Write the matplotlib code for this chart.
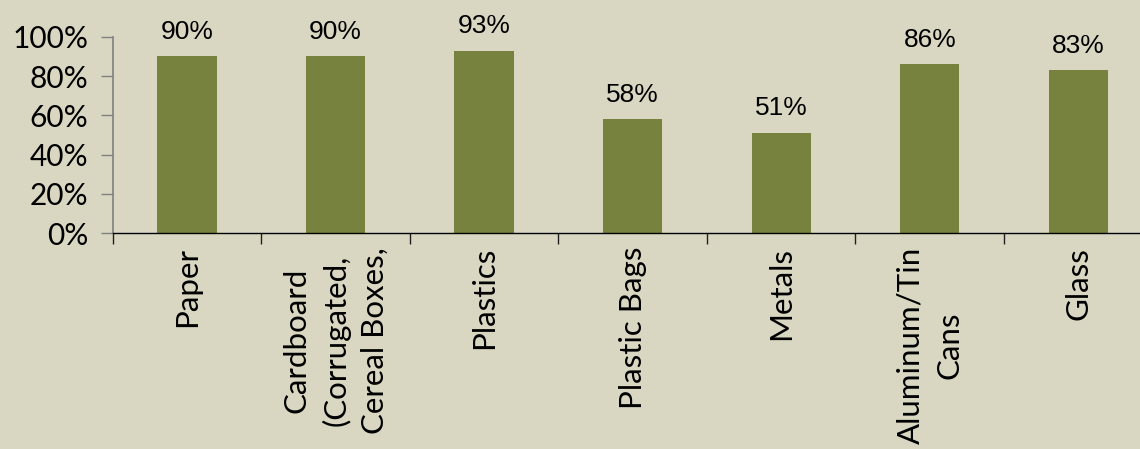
import matplotlib.pyplot as plt
from matplotlib.ticker import FixedLocator, PercentFormatter

# ---- data ----
categories = ["Paper", "Cardboard\n(Corrugated,\nCereal Boxes,", "Plastics",
              "Plastic Bags", "Metals", "Aluminum/Tin\nCans", "Glass"]
values = [0.90, 0.90, 0.93, 0.58, 0.51, 0.86, 0.83]
labels = ["90%", "90%", "93%", "58%", "51%", "86%", "83%"]
yticks = [0, 0.2, 0.4, 0.6, 0.8, 1.0]

bg = "#d9d7c1"
bar_color = "#78823f"

fig = plt.figure(figsize=(11.4, 4.49), dpi=100, facecolor=bg)
ax = fig.add_axes([0.099, 0.481, 0.912, 0.437])
ax.set_facecolor(bg)

x = list(range(len(categories)))
bars = ax.bar(x, values, width=0.4, color=bar_color)

for b, lab in zip(bars, labels):
    ax.annotate(lab, (b.get_x() + b.get_width() / 2, b.get_height()),
                xytext=(0, 9), textcoords="offset points",
                ha="center", va="bottom", fontsize=19,
                family="Liberation Sans", annotation_clip=False)

ax.set_xlim(-0.5, len(categories) - 0.5)
ax.set_ylim(0, 1)

# y axis
ax.yaxis.set_major_locator(FixedLocator(yticks))
ax.yaxis.set_major_formatter(PercentFormatter(1.0, decimals=0))
ax.tick_params(axis="y", length=8.6, width=1, color="#808080", pad=9,
               labelsize=21.5, labelfontfamily="Lato")

# x axis: labels at centres, tick marks at boundaries
ax.set_xticks(x)
ax.set_xticklabels(categories, rotation=90, va="top", ha="center",
                   multialignment="center", family="Lato", fontsize=22.5,
                   linespacing=1.47)
ax.tick_params(axis="x", which="major", length=0, pad=10)
ax.set_xticks([i - 0.5 for i in range(len(categories) + 1)], minor=True)
ax.tick_params(axis="x", which="minor", length=8, width=1, color="#202020")

for s in ["top", "right"]:
    ax.spines[s].set_visible(False)
ax.spines["left"].set_color("#808080")
ax.spines["left"].set_linewidth(1.2)
ax.spines["bottom"].set_color("black")
ax.spines["bottom"].set_linewidth(1)

fig.savefig("out.png", dpi=100, facecolor=bg)
